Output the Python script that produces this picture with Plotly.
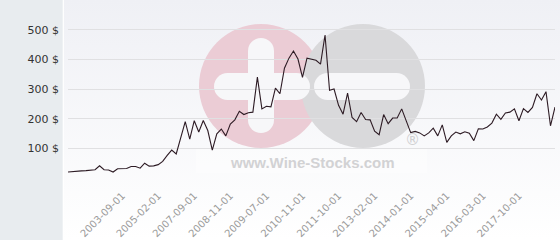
import base64
import plotly.graph_objects as go

# ---- data ----
prices = [20, 22, 23, 24, 25, 27, 28, 41, 28, 27,
          20, 31, 31, 32, 39, 39, 33, 50, 40, 41,
          45, 56, 76, 94, 81, 135, 190, 131, 193, 155,
          194, 160, 94, 149, 165, 142, 182, 196, 225, 214,
          220, 222, 340, 233, 242, 240, 303, 284, 370, 404,
          428, 401, 339, 404, 400, 397, 384, 482, 296, 300,
          245, 215, 286, 204, 190, 221, 197, 196, 158, 146,
          214, 183, 202, 202, 233, 194, 153, 157, 152, 142,
          152, 168, 142, 179, 120, 142, 155, 149, 156, 151,
          126, 166, 165, 172, 185, 215, 198, 219, 222, 233,
          193, 234, 221, 238, 284, 263, 291, 176, 239]
tick_labels = ["2003-09-01", "2005-02-01", "2007-09-01", "2008-11-01",
               "2009-07-01", "2010-11-01", "2011-10-01", "2013-02-01",
               "2014-01-01", "2015-04-01", "2016-03-01", "2017-10-01"]
y_ticks = [0, 100, 200, 300, 400, 500]
y_tick_text = ["", "100 $", "200 $", "300 $", "400 $", "500 $"]

idx = list(range(len(prices)))
tick_pos = [12 + 8 * k for k in range(len(tick_labels))]

W, H = 560, 240
L, R, T, B = 68, 5, 0, 62
PW, PH = W - L - R, H - T - B


def X(px):
    return (px - L) / PW


def Y(py):
    return (H - B - py) / PH


shapes = []


def circ(cx, cy, r, color):
    shapes.append(dict(type="circle", xref="paper", yref="paper",
                       x0=X(cx - r), x1=X(cx + r), y0=Y(cy + r), y1=Y(cy - r),
                       fillcolor=color, line=dict(width=0), layer="below"))


def rect(x0, y0, x1, y1, color, opacity=1):
    shapes.append(dict(type="rect", xref="paper", yref="paper",
                       x0=X(x0), x1=X(x1), y0=Y(y1), y1=Y(y0),
                       fillcolor=color, opacity=opacity,
                       line=dict(width=0), layer="below"))


def hbar(xa, xb, yc, h, color):
    r = h / 2
    rect(xa + r, yc - r, xb - r, yc + r, color)
    circ(xa + r, yc, r, color)
    circ(xb - r, yc, r, color)


def vbar(xc, ya, yb, w, color):
    r = w / 2
    rect(xc - r, ya + r, xc + r, yb - r, color)
    circ(xc, ya + r, r, color)
    circ(xc, yb - r, r, color)


# left panel
rect(0, 0, 62.7, H, "#e8ecef")

# watermark
circ(261, 86, 62, "#ebccd5")
circ(363, 86, 62, "#d9d9db")
hbar(214, 310, 86.5, 27, "#f7f7f9")
vbar(261, 38, 133, 26, "#f7f7f9")
hbar(314, 410, 86.5, 27, "#f7f7f9")
rect(196, 148, 427, 173, "#ffffff", 0.4)

svg = ('<svg xmlns="http://www.w3.org/2000/svg" width="100" height="100" '
       'preserveAspectRatio="none"><defs><linearGradient id="g" x1="0" y1="0" '
       'x2="0" y2="1"><stop offset="0" stop-color="#eff0f5"/>'
       '<stop offset="1" stop-color="#ffffff"/></linearGradient></defs>'
       '<rect width="100" height="100" fill="url(#g)"/></svg>')
src = "data:image/svg+xml;base64," + base64.b64encode(svg.encode()).decode()

fig = go.Figure()
fig.add_trace(go.Scatter(x=idx, y=prices, mode="lines",
                         line=dict(color="#2d1b24", width=1.1),
                         hoverinfo="skip", showlegend=False))

fig.update_layout(
    width=W, height=H,
    margin=dict(l=L, r=R, t=T, b=B, pad=0),
    paper_bgcolor="#ffffff",
    plot_bgcolor="rgba(0,0,0,0)",
    shapes=shapes,
    images=[dict(source=src, xref="paper", yref="paper",
                 x=X(63.7), y=Y(0), sizex=X(W) - X(63.7), sizey=H / PH,
                 xanchor="left", yanchor="top", sizing="stretch",
                 layer="below")],
    annotations=[
        dict(text="<b>www.Wine-Stocks.com</b>", xref="paper", yref="paper",
             x=X(312), y=Y(162), showarrow=False,
             font=dict(family="Liberation Sans", size=15, color="#d2d2d4"),
             xanchor="center", yanchor="middle"),
        dict(text="®", xref="paper", yref="paper",
             x=X(412), y=Y(140), showarrow=False,
             font=dict(family="DejaVu Sans", size=15, color="#d0d0d2"),
             xanchor="center", yanchor="middle"),
    ],
    xaxis=dict(range=[0, len(prices) - 1], tickmode="array",
               tickvals=tick_pos, ticktext=tick_labels, tickangle=-45,
               showgrid=False, zeroline=False, showline=False, ticks="",
               ticklabelstandoff=9,
               tickfont=dict(family="DejaVu Sans", size=10, color="#9a9a9a")),
    yaxis=dict(range=[0, 600], tickmode="array", tickvals=y_ticks,
               ticktext=y_tick_text, showgrid=True, gridcolor="#e0e0e2",
               gridwidth=1, zeroline=False, showline=False, ticks="",
               ticklabelstandoff=8,
               tickfont=dict(family="DejaVu Sans", size=11, color="#333333")),
    font=dict(family="DejaVu Sans"),
)

fig.write_html("out.html")
